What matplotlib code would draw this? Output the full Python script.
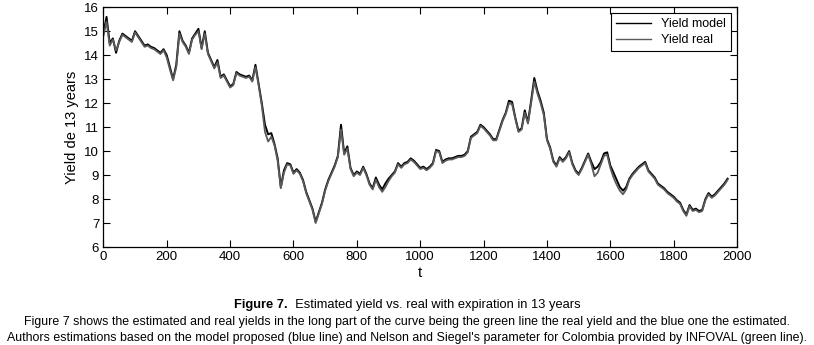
import numpy as np
import matplotlib
matplotlib.use("Agg")
import matplotlib.pyplot as plt

t = np.arange(0, 1971, 10)

yield_model = [
    14.9, 15.6, 14.5, 14.7, 14.1, 14.6, 14.9, 14.8, 14.7, 14.6,
    15.0, 14.8, 14.6, 14.4, 14.45, 14.35, 14.3, 14.2, 14.1, 14.25,
    14.0, 13.5, 13.0, 13.6, 15.0, 14.6, 14.4, 14.1, 14.7, 14.9,
    15.1, 14.3, 15.0, 14.1, 13.8, 13.5, 13.8, 13.1, 13.2, 12.95,
    12.7, 12.8, 13.3, 13.2, 13.15, 13.1, 13.15, 12.95, 13.6, 12.8,
    12.0, 11.1, 10.7, 10.75, 10.3, 9.7, 8.5, 9.2, 9.5, 9.45,
    9.1, 9.25, 9.1, 8.8, 8.3, 7.95, 7.6, 7.05, 7.45, 7.85,
    8.4, 8.8, 9.1, 9.4, 9.8, 11.1, 9.9, 10.2, 9.3, 9.0,
    9.15, 9.05, 9.35, 9.05, 8.65, 8.45, 8.9, 8.6, 8.4, 8.65,
    8.85, 9.0, 9.15, 9.5, 9.35, 9.5, 9.55, 9.7, 9.6, 9.45,
    9.3, 9.35, 9.25, 9.35, 9.5, 10.05, 10.0, 9.55, 9.65, 9.7,
    9.7, 9.75, 9.8, 9.8, 9.85, 10.0, 10.6, 10.7, 10.8, 11.1,
    11.0, 10.85, 10.7, 10.5, 10.5, 10.9, 11.3, 11.6, 12.1, 12.05,
    11.4, 10.85, 10.95, 11.7, 11.2, 12.1, 13.05, 12.5, 12.1, 11.6,
    10.5, 10.15, 9.6, 9.4, 9.75, 9.6, 9.75, 10.0, 9.5, 9.2,
    9.05, 9.3, 9.6, 9.9, 9.55, 9.25, 9.35, 9.55, 9.9, 9.95,
    9.4, 9.1, 8.8, 8.5, 8.35, 8.5, 8.85, 9.05, 9.2, 9.35,
    9.45, 9.55, 9.2, 9.05, 8.9, 8.65, 8.55, 8.45, 8.3, 8.2,
    8.1, 7.95, 7.85, 7.55, 7.35, 7.75, 7.55, 7.6, 7.5, 7.55,
    8.0, 8.25, 8.1, 8.2, 8.35, 8.5, 8.65, 8.85,
]

yield_real = [
    14.8, 15.4, 14.4, 14.65, 14.2, 14.55, 14.85, 14.75, 14.65, 14.55,
    14.95, 14.75, 14.55, 14.35, 14.4, 14.3, 14.25, 14.15, 14.05, 14.2,
    13.9, 13.4, 12.95, 13.5, 14.9, 14.55, 14.35, 14.05, 14.65, 14.85,
    15.0, 14.25, 14.9, 14.05, 13.75, 13.45, 13.7, 13.05, 13.15, 12.9,
    12.65, 12.75, 13.25, 13.15, 13.1, 13.05, 13.1, 12.9, 13.5, 12.75,
    11.9, 10.8, 10.4, 10.6, 10.25, 9.6, 8.45, 9.1, 9.45, 9.4,
    9.05, 9.2, 9.05, 8.75, 8.25, 7.9, 7.55, 7.0, 7.4, 7.8,
    8.35, 8.75, 9.05, 9.35, 9.75, 10.9, 9.85, 10.1, 9.25, 8.95,
    9.1, 9.0, 9.3, 9.0, 8.6, 8.4, 8.8, 8.5, 8.3, 8.5,
    8.75, 8.95, 9.1, 9.45, 9.3, 9.45, 9.5, 9.65, 9.55, 9.4,
    9.25, 9.3, 9.2, 9.3, 9.45, 10.0, 9.95, 9.5, 9.6, 9.65,
    9.65, 9.7, 9.75, 9.75, 9.8, 9.95, 10.55, 10.65, 10.75, 11.05,
    10.95, 10.8, 10.65, 10.45, 10.45, 10.85, 11.25, 11.55, 12.0, 11.95,
    11.35, 10.8, 10.9, 11.6, 11.15, 12.0, 12.9, 12.4, 12.0, 11.5,
    10.45, 10.1, 9.55, 9.35, 9.7, 9.55, 9.7, 9.95, 9.45, 9.15,
    9.0, 9.25, 9.55, 9.85, 9.45, 8.95, 9.1, 9.45, 9.8, 9.85,
    9.3, 8.9, 8.6, 8.35, 8.2, 8.4, 8.8, 9.0, 9.15, 9.3,
    9.4, 9.5, 9.15, 9.0, 8.85, 8.6, 8.5, 8.4, 8.25, 8.15,
    8.05, 7.9, 7.8, 7.5, 7.3, 7.7, 7.5, 7.55, 7.45, 7.5,
    7.95, 8.2, 8.05, 8.15, 8.3, 8.45, 8.6, 8.8,
]

caption_title = "Figure 7."
caption_rest = "  Estimated yield vs. real with expiration in 13 years"
caption_lines = [
    "Figure 7 shows the estimated and real yields in the long part of the curve being the green line the real yield and the blue one the estimated.",
    "Authors estimations based on the model proposed (blue line) and Nelson and Siegel's parameter for Colombia provided by INFOVAL (green line).",
]

cap_font = "Liberation Sans"
cap_size = 8.9

plt.rcParams["font.family"] = ["Liberation Sans", "DejaVu Sans"]

fig = plt.figure(figsize=(8.14, 3.45), dpi=100)
ax = fig.add_axes([0.127, 0.284, 0.7785, 0.695])

ax.plot(t, yield_model, color="black", linewidth=1.4, label="Yield model")
ax.plot(t, yield_real, color="#5a5a5a", linewidth=1.3, label="Yield real")

ax.set_xlim(0, 2000)
ax.set_ylim(6, 16)
ax.set_xticks(np.arange(0, 2001, 200))
ax.set_yticks(np.arange(6, 17, 1))
ax.tick_params(direction="in", top=True, right=True, length=5, labelsize=9.5, pad=3)
for s in ax.spines.values():
    s.set_linewidth(0.9)

ax.set_xlabel("t", fontsize=11, labelpad=2)
ax.set_ylabel("Yield de 13 years", fontsize=10.5, labelpad=4)

leg = ax.legend(loc="upper right", fontsize=9, frameon=True, fancybox=False,
                edgecolor="black", framealpha=1, borderaxespad=0.5,
                handlelength=2.8, borderpad=0.4, labelspacing=0.3)
leg.get_frame().set_linewidth(0.8)
for h in leg.get_lines():
    h.set_linewidth(1.0)

# caption: bold "Figure 7." followed by plain text, centred together
y1 = 1 - 305 / 345
bold = fig.text(0.5, y1, caption_title, ha="left", va="center",
                fontsize=cap_size + 0.4, family=cap_font, weight="bold")
rest = fig.text(0.5, y1, caption_rest, ha="left", va="center",
                fontsize=cap_size + 0.4, family=cap_font)
fig.canvas.draw()
r = fig.canvas.get_renderer()
wb = bold.get_window_extent(r).width / fig.bbox.width
wr = rest.get_window_extent(r).width / fig.bbox.width
x0 = 0.5 - (wb + wr) / 2
bold.set_x(x0)
rest.set_x(x0 + wb)

fig.text(0.5, 1 - 322 / 345, caption_lines[0], ha="center", va="center",
         fontsize=cap_size, family=cap_font)
fig.text(0.5, 1 - 338 / 345, caption_lines[1], ha="center", va="center",
         fontsize=cap_size, family=cap_font)

fig.savefig("out.png", dpi=100)
